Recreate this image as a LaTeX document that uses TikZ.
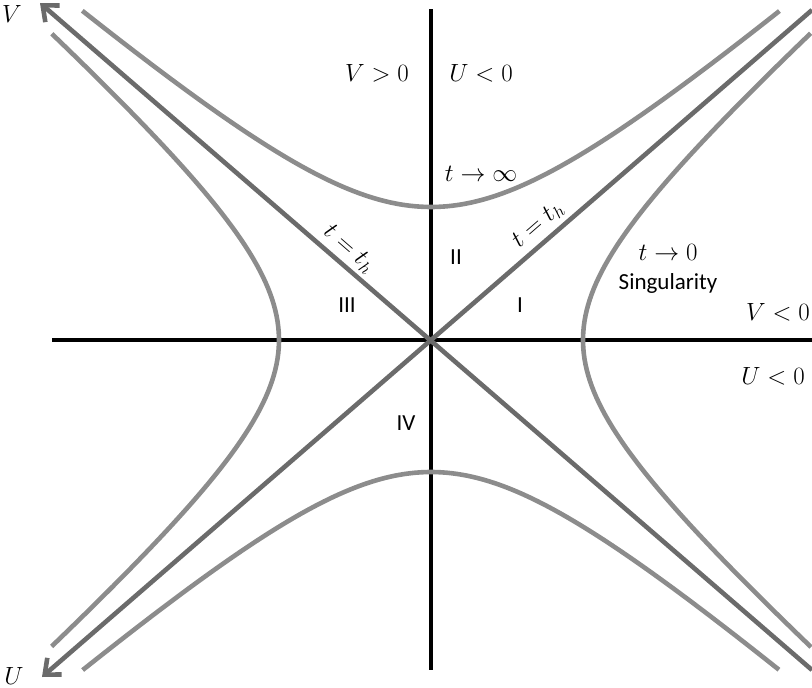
\documentclass[tikz,border=0pt]{standalone}
\usepackage{fontspec}
\newfontfamily\calib{Carlito}
\usetikzlibrary{arrows.meta}
\definecolor{horizongray}{gray}{0.42}
\definecolor{branchgray}{gray}{0.55}
\begin{document}
\begin{tikzpicture}[x=1pt,y=-1pt,
  axis/.style={line width=3.2pt},
  horizon/.style={line width=4.6pt,draw=horizongray},
  branch/.style={line width=4.6pt,draw=branchgray,line join=round},
  lbl/.style={font=\fontsize{23}{27}\selectfont},
  region/.style={font=\calib\fontsize{23}{27}\selectfont},
  tip/.style={-{Straight Barb[length=13pt,width=22pt]}}]
  \useasboundingbox (0,0) rectangle (812,688);
  \coordinate (o) at (431,340);
  \coordinate (top) at (431,9);
  \coordinate (bottom) at (431,670);
  \coordinate (left) at (52,340);
  \coordinate (right) at (812,340);
  \coordinate (vfoot) at (812,670);
  \coordinate (vtip) at (40,3);
  \coordinate (ufoot) at (812,10);
  \coordinate (utip) at (42,677);
  \draw[axis] (top) -- (bottom);
  \draw[axis] (left) -- (right);
  \draw[horizon,tip] (vfoot) -- (vtip);
  \draw[horizon,tip] (ufoot) -- (utip);
  \draw[branch] plot[domain=-1.556:1.556,samples=80] ({431+154*sinh(\x)},{340-133*cosh(\x)});
  \draw[branch] plot[domain=-1.567:1.567,samples=80] ({431+152*sinh(\x)},{340+132*cosh(\x)});
  \draw[branch] plot[domain=-1.565:1.565,samples=80] ({431-152*cosh(\x)},{340-134*sinh(\x)});
  \draw[branch] plot[domain=-1.567:1.567,samples=80] ({431+152*cosh(\x)},{340-134*sinh(\x)});
  \node[lbl,inner sep=1pt] (vlabel) at (12,14) {$V$};
  \node[lbl,inner sep=1pt] (ulabel) at (14,676) {$U$};
  \node[lbl] (vpos) at (377,73) {$V>0$};
  \node[lbl] (unegtop) at (481,73) {$U<0$};
  \node[lbl] (tinf) at (481,174) {$t\to\infty$};
  \node[lbl,rotate=-41] (thleft) at (349,249) {$t=t_h$};
  \node[lbl,rotate=41] (thright) at (538,225) {$t=t_h$};
  \node[region] (rii) at (456,257) {II};
  \node[region] (riii) at (347,305) {III};
  \node[region] (ri) at (520,305) {I};
  \node[region] (riv) at (406,423) {IV};
  \node[lbl] (tzero) at (668,252) {$t\to0$};
  \node[region] (sing) at (668,283) {Singularity};
  \node[lbl] (vneg) at (778,312) {$V<0$};
  \node[lbl] (unegright) at (773,376) {$U<0$};
\end{tikzpicture}
\end{document}
